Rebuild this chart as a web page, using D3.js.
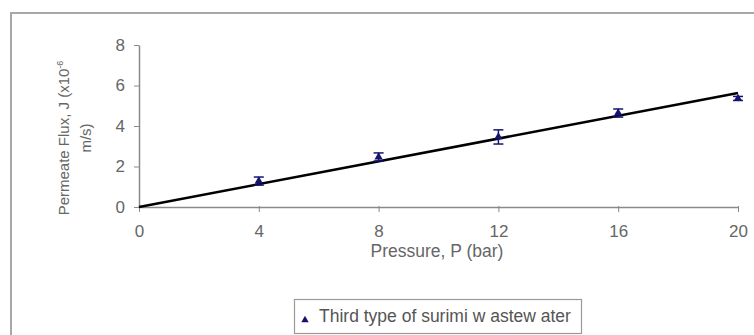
<!DOCTYPE html>
<html>
<head>
<meta charset="utf-8">
<script src="https://cdn.jsdelivr.net/npm/d3@7"></script>
<style>
  body { margin: 0; background: #fff; }
  svg { display: block; font-family: "Liberation Sans", Arial, sans-serif; }
</style>
</head>
<body>
<svg id="chart" width="754" height="335"></svg>
<script>
// pressure (bar)
var pressures = [4, 8, 12, 16, 20];
// permeate flux (x10^-6 m/s)
var fluxes = [1.28, 2.47, 3.46, 4.64, 5.36];
var errors = [0.2, 0.2, 0.35, 0.2, 0.1];
var xTicks = [0, 4, 8, 12, 16, 20];
var yTicks = [0, 2, 4, 6, 8];
var legendLabel = "Third type of surimi w astew ater";

var svg = d3.select("#chart");

var x = d3.scaleLinear().domain([0, 20]).range([139, 738]);
var y = d3.scaleLinear().domain([0, 8]).range([207, 45]);

// frame (only top and left edges show)
svg.append("path")
  .attr("d", "M11,335V13H754")
  .attr("fill", "none")
  .attr("stroke", "#a8a8a8")
  .attr("stroke-width", 2);

var axisColor = "#8a8a8a";
var textColor = "#666";

// x axis
var xAxis = svg.append("g")
  .attr("transform", "translate(0," + y(0) + ")")
  .call(d3.axisBottom(x).tickValues(xTicks).tickSize(5).tickSizeOuter(0).tickPadding(13));
xAxis.select(".domain").attr("stroke", axisColor).attr("stroke-width", 1.5);
xAxis.selectAll(".tick line").attr("stroke", axisColor).attr("y1", -1);
xAxis.selectAll(".tick text").attr("fill", textColor).style("font-size", "17px");

// y axis
var yAxis = svg.append("g")
  .attr("transform", "translate(" + x(0) + ",0)")
  .call(d3.axisLeft(y).tickValues(yTicks).tickSize(5).tickSizeOuter(0).tickPadding(9));
yAxis.select(".domain").attr("stroke", axisColor).attr("stroke-width", 1.5);
yAxis.selectAll(".tick line").attr("stroke", axisColor);
yAxis.selectAll(".tick text").attr("fill", textColor).style("font-size", "17px");

// axis titles
svg.append("text")
  .attr("x", 437).attr("y", 257)
  .attr("text-anchor", "middle")
  .attr("fill", textColor)
  .style("font-size", "17.5px")
  .text("Pressure, P (bar)");

var yTitle = svg.append("text")
  .attr("transform", "translate(69,138) rotate(-90)")
  .attr("text-anchor", "middle")
  .attr("fill", textColor)
  .style("font-size", "15px");
yTitle.append("tspan").attr("x", 0).attr("y", 0).text("Permeate Flux, J (x10");
yTitle.append("tspan").attr("dy", -6).style("font-size", "9px").text("-6");
yTitle.append("tspan").attr("x", 0).attr("y", 22).text("m/s)");

// linear trendline through origin (least squares)
var slope = d3.sum(pressures, function (p, i) { return p * fluxes[i]; }) /
            d3.sum(pressures, function (p) { return p * p; });
svg.append("line")
  .attr("x1", x(0)).attr("y1", y(0))
  .attr("x2", x(20)).attr("y2", y(20 * slope))
  .attr("stroke", "#000")
  .attr("stroke-width", 2.5);

var navy = "#141470";

// error bars
var eb = svg.append("g").selectAll("g")
  .data(pressures)
  .join("g")
  .attr("stroke", navy)
  .attr("stroke-width", 1.5);
eb.append("line")
  .attr("x1", function (d) { return x(d); })
  .attr("x2", function (d) { return x(d); })
  .attr("y1", function (d, i) { return y(fluxes[i] + errors[i]); })
  .attr("y2", function (d, i) { return y(fluxes[i] - errors[i]); });
eb.each(function (d, i) {
  var g = d3.select(this);
  [fluxes[i] + errors[i], fluxes[i] - errors[i]].forEach(function (v) {
    g.append("line")
      .attr("x1", x(d) - 5).attr("x2", x(d) + 5)
      .attr("y1", y(v)).attr("y2", y(v));
  });
});

// markers
var tri = d3.symbol().type(d3.symbolTriangle).size(30);
svg.append("g").selectAll("path")
  .data(pressures)
  .join("path")
  .attr("d", tri)
  .attr("transform", function (d, i) { return "translate(" + x(d) + "," + y(fluxes[i]) + ")"; })
  .attr("fill", navy);

// legend
var lg = svg.append("g").attr("transform", "translate(294,299)");
lg.append("rect")
  .attr("x", 0.5).attr("y", 0.5)
  .attr("width", 287).attr("height", 34)
  .attr("fill", "#fff")
  .attr("stroke", "#9a9a9a")
  .attr("stroke-width", 1.2);
lg.append("path")
  .attr("d", d3.symbol().type(d3.symbolTriangle).size(24))
  .attr("transform", "translate(11,21)")
  .attr("fill", navy);
lg.append("text")
  .attr("x", 25).attr("y", 23)
  .attr("fill", "#555")
  .style("font-size", "17.5px")
  .text(legendLabel);
</script>
</body>
</html>
